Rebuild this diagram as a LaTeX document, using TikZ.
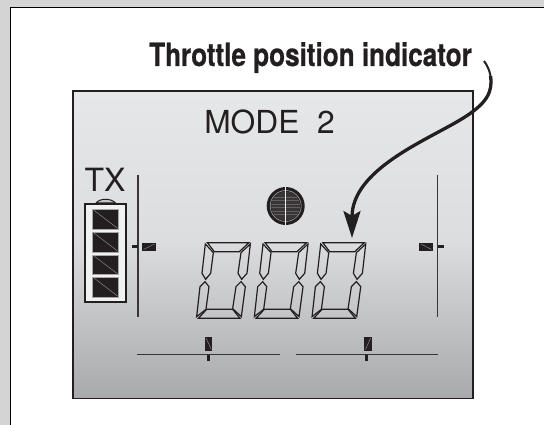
\documentclass[tikz,border=0pt]{standalone}
\usepackage{fontspec}
\setmainfont{TeX Gyre Heros}
\newfontfamily\condfont[FakeStretch=0.815,BoldFeatures={FakeBold=0.6}]{TeX Gyre Heros}
\usetikzlibrary{arrows.meta}
\definecolor{inkc}{HTML}{231F20}
\definecolor{bandc}{HTML}{D4D4D4}
\definecolor{lcdtop}{HTML}{E6E7E8}
\definecolor{lcdmid}{HTML}{DCDDDE}
\definecolor{lcdbot}{HTML}{A8A9AB}
\tikzset{
 seg/.style={draw=inkc,line width=1.2pt,line join=miter},
 thinline/.style={draw=inkc!90,line width=1.4pt},
 cell/.style={fill=inkc,draw=gray!70,line width=0.7pt},
 diag/.style={draw=gray!80,line width=0.4pt},
 slider/.style={fill=inkc,draw=none},
}
\begin{document}
\begin{tikzpicture}[x=1pt,y=-1pt]
\useasboundingbox (0,0) rectangle (544,425);
\fill[white] (0,0) rectangle (544,425);
\fill[bandc] (0,0) rectangle (544,8);
\fill[bandc] (0,0) rectangle (10.5,425);
\draw[black,line width=1pt] (10.5,425) -- (10.5,8) -- (544,8);
% LCD panel
\shade[top color=lcdtop,bottom color=lcdmid,draw=none] (73,91) rectangle (473,240);
\shade[top color=lcdmid,bottom color=lcdbot,draw=none] (73,240) rectangle (473,398.5);
\draw[inkc,line width=1.4pt] (73,91) rectangle (473,398.5);
% texts
\node[anchor=base east,inner sep=0pt,text=inkc,font=\condfont\bfseries\fontsize{32}{34}\selectfont] (label) at (472,66) {Throttle position indicator};
\node[anchor=base,inner sep=0pt,text=inkc,font=\fontsize{31.7}{34}\selectfont] (mode) at (269.5,134) {MODE\ \ 2};
\node[anchor=base,inner sep=0pt,text=inkc,font=\fontsize{32}{34}\selectfont] (tx) at (105,192) {TX};
% battery
\draw[inkc,line width=1pt,fill=gray!45] (96,203) .. controls (100,198) and (111,198) .. (115.5,203) -- cycle;
\draw[inkc,line width=2pt,fill=lcdtop!60!white] (85,204) rectangle (126,302.3);
\foreach \t/\b in {209.3/229.3,232/252,255/274.7,277/297}{
  \draw[cell] (92.7,\t) rectangle (118.3,\b);
  \draw[diag] (94,\t+1) -- (117.5,\b-1);
}
% bars
\draw[thinline] (138,175) -- (138,317);
\draw[thinline] (437.7,175) -- (437.7,317);
\draw[thinline] (137,354.5) -- (280,354.5);
\draw[thinline] (296,354.5) -- (438,354.5);
% trim ticks
\fill[inkc] (131.5,245) rectangle (138,248);
\fill[slider] (142,242.7) rectangle (156,250.7);
\draw[diag] (143.5,249.5) -- (154.5,244);
\fill[inkc] (437.7,245) rectangle (444,248);
\fill[slider] (419.3,242.7) rectangle (433.3,250.7);
\draw[diag] (421,244) -- (431.5,249.5);
\fill[inkc] (207.3,354.5) rectangle (210,361);
\fill[slider] (205,336.7) rectangle (212.3,350.7);
\draw[diag] (206,338) -- (211.3,349.5);
\fill[inkc] (365.3,354.5) rectangle (368,361);
\fill[slider] (364.4,336.7) rectangle (371.7,350.7);
\draw[diag] (365.4,349.5) -- (370.7,338);
% centre dial
\fill[inkc] (285.7,206) circle (19);
\draw[gray!60,line width=0.5pt] (285.7,206) circle (15.5);
\begin{scope}
\clip (285.7,206) circle (14.5);
\fill[inkc!90] (270,190) rectangle (301,222);
\foreach \y in {197,200.5,...,216}{\draw[gray!75!black,line width=0.3pt] (270,\y) -- (301,\y);}
\end{scope}
\draw[white!90!gray,line width=0.9pt] (285.7,187) -- (285.7,225);
% digits
\foreach \d in {0,57.7,115.4}{
\begin{scope}[shift={(170+\d,170)},x=0.3333pt,y=-0.3333pt]
\draw[seg] (112,218) -- (237,218) -- (208,245) -- (133,245) -- cycle;
\draw[seg] (106,222) -- (130,248) -- (122,310) -- (107,328) -- (96,310) -- cycle;
\draw[seg] (241,222) -- (231,310) -- (215,328) -- (204,310) -- (213,248) -- cycle;
\draw[seg] (105,335) -- (117,350) -- (108,418) -- (80,440) -- (90,350) -- cycle;
\draw[seg] (213,335) -- (226,350) -- (214,440) -- (188,416) -- (198,350) -- cycle;
\draw[seg] (110,418) -- (188,418) -- (210,445) -- (85,445) -- cycle;
\end{scope}}
% callout
\coordinate (cstart) at (484,61);
\coordinate (cmid) at (490.5,76);
\coordinate (ctip) at (352,238);
\draw[inkc,line width=2pt] (cstart) .. controls (487,65) and (489.5,70) .. (cmid);
\draw[inkc,line width=3.3pt,-{Stealth[length=27pt,width=17pt,inset=5pt]}]
 (cmid) .. controls (493,92) and (487,104) .. (460,120)
 .. controls (425,141) and (352,170) .. (ctip);
\end{tikzpicture}
\end{document}
